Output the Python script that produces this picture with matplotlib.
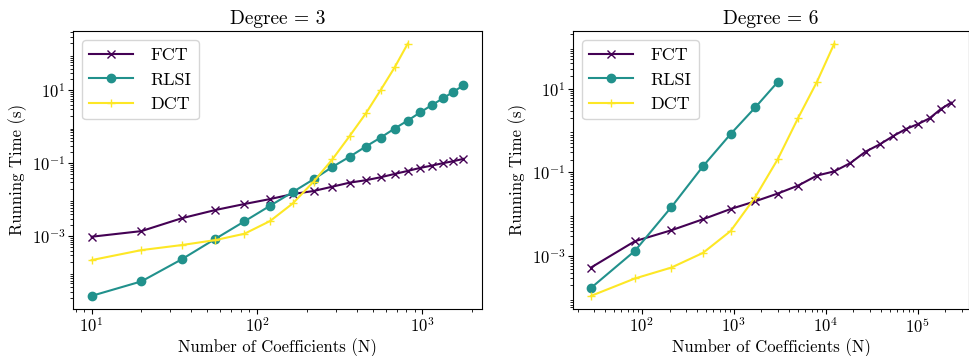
import matplotlib
matplotlib.use("Agg")
import matplotlib.pyplot as plt

plt.rcParams["font.family"] = "serif"
plt.rcParams["font.serif"] = ["cmr10", "DejaVu Serif"]
plt.rcParams["mathtext.fontset"] = "cm"
plt.rcParams["axes.formatter.use_mathtext"] = True
plt.rcParams["axes.unicode_minus"] = False

# degree 3
n3 = [10, 20, 35, 56, 84, 120, 165, 220, 286, 364, 455, 560, 680, 816,
      969, 1140, 1330, 1540, 1771]
fct3 = [9.6e-4, 1.37e-3, 3.08e-3, 5.2e-3, 7.6e-3, 0.0104, 0.0143, 0.0173,
        0.0228, 0.0294, 0.0342, 0.0413, 0.0509, 0.0616, 0.0745, 0.0863,
        0.1005, 0.114, 0.132]
rlsi3 = [2.28e-5, 5.7e-5, 2.29e-4, 8.4e-4, 2.54e-3, 6.8e-3, 0.0163, 0.0364,
         0.0794, 0.152, 0.288, 0.508, 0.90, 1.49, 2.48, 3.96, 6.02, 9.2, 13.7]
dct3 = [2.19e-4, 4.12e-4, 5.66e-4, 7.77e-4, 1.16e-3, 2.59e-3, 7.96e-3,
        0.0313, 0.129, 0.566, 2.33, 10.3, 43.0, 193.0]

# degree 6
n6 = [28, 84, 210, 462, 924, 1716, 3003, 5005, 8008, 12376, 18564, 27132,
      38760, 54264, 74613, 100947, 134596, 177100, 230230]
fct6 = [5.37e-4, 2.28e-3, 4.17e-3, 7.62e-3, 0.0134, 0.0205, 0.0313, 0.0485,
        0.084, 0.106, 0.168, 0.314, 0.469, 0.740, 1.09, 1.43, 1.96, 3.21, 4.63]
rlsi6 = [1.75e-4, 1.34e-3, 0.015, 0.140, 0.826, 3.58, 14.4]
dct6 = [1.13e-4, 2.94e-4, 5.37e-4, 1.20e-3, 4.0e-3, 0.026, 0.206, 1.99,
        14.4, 118.7]

colors = {"FCT": "#440154", "RLSI": "#21918c", "DCT": "#fde725"}

W, H = 970, 356
fig, axes = plt.subplots(1, 2, figsize=(W / 100, H / 100), dpi=100)
axes[0].set_position([73 / W, 1 - 308.5 / H, 409 / W, 277.5 / H])
axes[1].set_position([573 / W, 1 - 308.5 / H, 396 / W, 277.5 / H])

panels = [
    (axes[0], "Degree = 3", n3, fct3, rlsi3, dct3),
    (axes[1], "Degree = 6", n6, fct6, rlsi6, dct6),
]
for ax, title, n, fct, rlsi, dct in panels:
    ax.plot(n[:len(fct)], fct, marker="x", color=colors["FCT"], label="FCT")
    ax.plot(n[:len(rlsi)], rlsi, marker="o", color=colors["RLSI"], label="RLSI")
    ax.plot(n[:len(dct)], dct, marker="+", color=colors["DCT"], label="DCT")
    ax.set_xscale("log")
    ax.set_yscale("log")
    ax.set_yticks([1e-3, 1e-1, 1e1])
    ax.set_title(title, fontsize=14, pad=5)
    ax.set_xlabel("Number of Coefficients (N)", fontsize=12, labelpad=2)
    ax.set_ylabel("Running Time (s)", fontsize=12, labelpad=3)
    ax.tick_params(labelsize=12, pad=2)
    ax.legend(loc="upper left", fontsize=13, handlelength=2.4,
              handletextpad=1.0)

fig.savefig("out.png", dpi=100)
